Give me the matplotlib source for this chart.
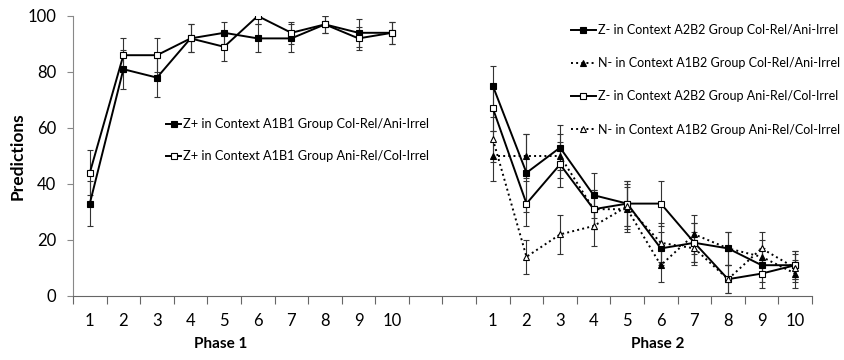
import numpy as np
import matplotlib.pyplot as plt
from matplotlib.lines import Line2D

plt.rcParams['font.family'] = ['Lato', 'DejaVu Sans']

# ----------------------
# data
# ----------------------
trials = list(range(1, 11))
phase1_x = [1, 2, 3, 4, 5, 6, 7, 8, 9, 10]
phase2_x = [13, 14, 15, 16, 17, 18, 19, 20, 21, 22]

# Phase 1: Z+ in Context A1B1
p1_col_rel = [33, 81, 78, 92, 94, 92, 92, 97, 94, 94]
p1_col_rel_err = [8, 7, 7, 5, 4, 5, 5, 3, 5, 4]
p1_ani_rel = [44, 86, 86, 92, 89, 100, 94, 97, 92, 94]
p1_ani_rel_err = [8, 6, 6, 5, 5, 3, 4, 3, 4, 4]

# Phase 2
z_col_rel = [75, 44, 53, 36, 33, 17, 19, 17, 11, 11]
z_col_rel_err = [7, 14, 8, 8, 8, 6, 7, 6, 6, 5]
n_col_rel = [50, 50, 50, 31, 31, 11, 22, 17, 14, 8]
n_col_rel_err = [9, 8, 8, 7, 8, 6, 7, 6, 6, 5]
z_ani_rel = [67, 33, 47, 31, 33, 33, 19, 6, 8, 11]
z_ani_rel_err = [8, 8, 8, 7, 8, 8, 7, 5, 5, 5]
n_ani_rel = [56, 14, 22, 25, 32, 19, 17, 6, 17, 10]
n_ani_rel_err = [8, 6, 7, 7, 8, 7, 6, 5, 6, 5]

yticks = [0, 20, 40, 60, 80, 100]

# ----------------------
# figure
# ----------------------
fig = plt.figure(figsize=(8.45, 3.6), dpi=100)
ax = fig.add_axes([73 / 845, 1 - 296 / 360, (812 - 73) / 845, 280 / 360])

err_kw = dict(ecolor="#333333", elinewidth=0.8, capsize=2.5, capthick=0.8)


def series(x, y, e, marker, mfc, ls, ms):
    ax.errorbar(x, y, yerr=e, color="black", linestyle=ls, linewidth=1.4,
                marker=marker, markersize=ms, markerfacecolor=mfc,
                markeredgecolor="black", markeredgewidth=0.8, **err_kw)


series(phase1_x, p1_col_rel, p1_col_rel_err, "s", "black", "-", 4.8)
series(phase1_x, p1_ani_rel, p1_ani_rel_err, "s", "white", "-", 4.8)

series(phase2_x, z_col_rel, z_col_rel_err, "s", "black", "-", 4.8)
series(phase2_x, n_col_rel, n_col_rel_err, "^", "black", ":", 4.8)
series(phase2_x, z_ani_rel, z_ani_rel_err, "s", "white", "-", 4.8)
series(phase2_x, n_ani_rel, n_ani_rel_err, "^", "white", ":", 4.8)

ax.set_xlim(0.5, 22.5)
ax.set_ylim(0, 100)

# axes styling
for s in ["top", "right"]:
    ax.spines[s].set_visible(False)
ax.spines["left"].set_color("#888888")
ax.spines["bottom"].set_color("#666666")
ax.spines["left"].set_linewidth(0.8)
ax.spines["bottom"].set_linewidth(0.8)

ax.set_yticks(yticks)
ax.tick_params(axis="y", length=4, width=0.8, color="#888888", pad=8, labelsize=12)

ax.set_xticks(np.arange(0.5, 23, 1.0))
ax.set_xticklabels([])
ax.tick_params(axis="x", which="major", length=6, width=0.8, color="#666666")
ax.set_xticks(phase1_x + phase2_x, minor=True)
ax.set_xticklabels([str(t) for t in trials] * 2, minor=True)
ax.tick_params(axis="x", which="minor", length=0, pad=12, labelsize=12)

ax.set_ylabel("Predictions", fontsize=12.5, fontweight="bold")
ax.yaxis.set_label_coords(-0.064, 0.5)

trans = ax.get_xaxis_transform()
ax.text(4.9, -0.17, "Phase 1", transform=trans, ha="center", va="center",
        fontsize=11, fontweight="bold")
ax.text(17.9, -0.17, "Phase 2", transform=trans, ha="center", va="center",
        fontsize=11, fontweight="bold")


def handle(marker, mfc, ls):
    return Line2D([], [], color="black", linestyle=ls, linewidth=1.4,
                  marker=marker, markersize=4.8, markerfacecolor=mfc,
                  markeredgecolor="black", markeredgewidth=0.8)


fig.legend(
    [handle("s", "black", "-"), handle("s", "white", "-")],
    ["Z+ in Context A1B1 Group Col-Rel/Ani-Irrel",
     "Z+ in Context A1B1 Group Ani-Rel/Col-Irrel"],
    loc="upper left", bbox_to_anchor=(166 / 845, 1 - 118 / 360),
    frameon=False, fontsize=9.2, handlelength=1.2, handletextpad=0.15,
    borderpad=0, borderaxespad=0, labelspacing=1.6)

fig.legend(
    [handle("s", "black", "-"), handle("^", "black", ":"),
     handle("s", "white", "-"), handle("^", "white", ":")],
    ["Z- in Context A2B2 Group Col-Rel/Ani-Irrel",
     "N- in Context A1B2 Group Col-Rel/Ani-Irrel",
     "Z- in Context A2B2 Group Ani-Rel/Col-Irrel",
     "N- in Context A1B2 Group Ani-Rel/Col-Irrel"],
    loc="upper left", bbox_to_anchor=(571 / 845, 1 - 24 / 360),
    frameon=False, fontsize=9.0, handlelength=2.0, handletextpad=0.15,
    borderpad=0, borderaxespad=0, labelspacing=1.7)

fig.savefig("out.png", dpi=100)
